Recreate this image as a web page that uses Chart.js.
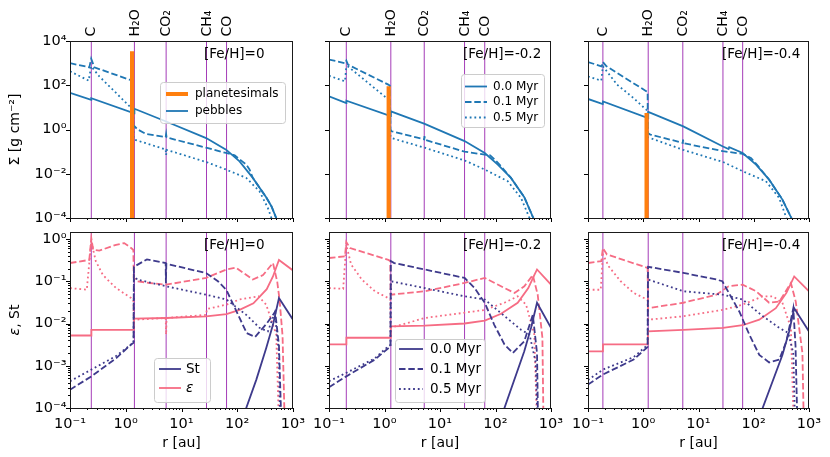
<!DOCTYPE html>
<html><head><meta charset="utf-8">
<script src="https://cdn.jsdelivr.net/npm/chart.js@4/dist/chart.umd.min.js"></script>
<style>
html,body{margin:0;padding:0;background:#fff;}
#wrap{position:relative;width:830px;height:457px;overflow:hidden;}
canvas{position:absolute;left:0;top:0;}
</style></head><body><div id="wrap">
<canvas id="c0" width="830" height="457"></canvas>
<canvas id="c1" width="830" height="457"></canvas>
<canvas id="c2" width="830" height="457"></canvas>
<canvas id="c3" width="830" height="457"></canvas>
<canvas id="c4" width="830" height="457"></canvas>
<canvas id="c5" width="830" height="457"></canvas>
</div>
<script>
// ---------------- DATA ----------------
const snowNames = ['C', 'H₂O', 'CO₂', 'CH₄', 'CO'];
const snowR_A = [0.241, 1.43, 5.3, 28.1, 64.3];   // [Fe/H]=0
const snowR_B = [0.205, 1.30, 5.2, 27.7, 64];     // [Fe/H]=-0.2
const snowR_C = [0.186, 1.23, 5.2, 27.7, 63];     // [Fe/H]=-0.4
const fehLabels = ['[Fe/H]=0', '[Fe/H]=-0.2', '[Fe/H]=-0.4'];
const timeLabels = ['0.0 Myr', '0.1 Myr', '0.5 Myr'];
const xTickValues = [0.1, 1, 10, 100, 1000];
const xTickLabels = ['10⁻¹', '10⁰', '10¹', '10²', '10³'];
const sigmaTickValues = [1e-4, 1e-2, 1, 1e2, 1e4];
const sigmaTickLabels = ['10⁻⁴', '10⁻²', '10⁰', '10²', '10⁴'];
const epsTickValues = [1e-4, 1e-3, 1e-2, 1e-1, 1];
const epsTickLabels = ['10⁻⁴', '10⁻³', '10⁻²', '10⁻¹', '10⁰'];

// pebble surface density [g cm^-2] vs r [au]
const pebA_t00 = [[0.1,45],[0.24,22],[0.241,26],[1.42,5.4],[1.43,8.7],[5.3,2.3],[27.7,0.41],[63,0.123],[110,0.036],[190,0.0065],[330,8.7e-4],[410,3.4e-4],[500,1e-4],[560,3e-5]];
const pebA_t01 = [[0.1,1000],[0.222,646],[0.24,1585],[0.273,646],[1.17,178],[1.32,160],[1.36,1.6],[1.43,1.4],[1.64,1.0],[2.3,0.63],[5.2,0.46],[5.3,0.62],[5.4,0.44],[27.7,0.15],[63,0.087],[90,0.068],[118,0.039],[145,0.026],[166,0.0155],[190,0.0065],[330,8.7e-4],[410,3.4e-4],[500,1e-4],[560,3e-5]];
const pebA_t05 = [[0.1,427],[0.216,162],[0.24,720],[0.336,250],[0.67,45],[1.25,9.4],[1.36,8],[1.38,0.4],[1.43,0.35],[5.2,0.125],[5.3,0.07],[5.4,0.12],[27.7,0.034],[63,0.0155],[145,0.0065],[251,0.0016],[355,2.8e-4],[410,1e-4],[460,3e-5]];
const plaA = [[1.3,1e-6],[1.3,3400]];

const pebB_t00 = [[0.1,31.6],[0.205,15.8],[0.206,20],[1.29,4.0],[1.3,6.6],[5.3,1.78],[27.7,0.3],[64,0.087],[110,0.026],[190,0.0065],[330,8.7e-4],[480,1e-4],[540,3e-5]];
const pebB_t01 = [[0.1,1445],[0.194,1000],[0.205,1290],[0.22,850],[1.17,107],[1.25,95],[1.28,1.0],[1.34,0.83],[5.2,0.36],[5.25,0.5],[5.35,0.34],[27.7,0.1],[64,0.073],[80,0.068],[100,0.04],[125,0.022],[190,0.0065],[330,8.7e-4],[480,1e-4],[540,3e-5]];
const pebB_t05 = [[0.1,270],[0.194,150],[0.205,700],[0.223,690],[1.1,26],[1.25,22],[1.28,0.5],[1.34,0.41],[5.3,0.15],[27.7,0.04],[64,0.0155],[166,0.0046],[288,8.1e-4],[410,1e-4],[460,3e-5]];
const plaB = [[1.19,1e-6],[1.19,90]];

const pebC_t00 = [[0.1,24],[0.185,14],[0.187,18.6],[1.22,3.3],[1.23,6.2],[5.3,1.38],[27.7,0.17],[35,0.13],[36,0.16],[63,0.087],[110,0.026],[190,0.0054],[330,6.8e-4],[480,1e-4],[540,3e-5]];
const pebC_t01 = [[0.1,1120],[0.174,720],[0.186,1120],[0.216,720],[1.13,54],[1.2,50],[1.21,0.7],[1.34,0.59],[5.2,0.25],[5.25,0.35],[5.35,0.24],[27.7,0.105],[63,0.079],[90,0.05],[120,0.022],[190,0.0054],[330,6.8e-4],[480,1e-4],[540,3e-5]];
const pebC_t05 = [[0.1,250],[0.174,162],[0.186,720],[0.336,107],[0.67,26],[1.13,7.9],[1.2,7],[1.21,0.45],[1.34,0.41],[5.3,0.12],[27.7,0.034],[63,0.013],[166,0.0046],[288,8.1e-4],[390,1e-4],[440,3e-5]];
const plaC = [[1.15,1e-6],[1.15,5.6]];

// dust-to-gas ratio epsilon and Stokes number St vs r [au]
const epsA_t00 = [[0.1,0.0052],[0.241,0.0052],[0.242,0.0071],[1.4,0.0071],[1.41,0.013],[5.3,0.0135],[27.7,0.0148],[64,0.0166],[110,0.021],[195,0.030],[338,0.065],[437,0.13],[560,0.32],[1000,0.18]];
const epsA_t01 = [[0.1,0.27],[0.222,0.32],[0.241,1.05],[0.26,0.56],[0.336,0.53],[0.67,0.73],[0.94,0.8],[1.25,0.61],[1.37,0.55],[1.39,0.12],[1.6,0.1],[2.66,0.091],[5.3,0.083],[27.7,0.12],[64,0.19],[95,0.21],[190,0.11],[290,0.14],[437,0.27],[520,0.1],[576,0.035],[650,0.005],[760,1e-6]];
const epsA_t05 = [[0.1,0.069],[0.2,0.063],[0.241,0.88],[0.29,0.3],[0.39,0.14],[0.67,0.069],[1.25,0.04],[1.37,0.036],[1.39,0.0123],[5.2,0.0135],[5.3,0.0055],[5.4,0.0135],[27.7,0.016],[28.5,0.022],[64,0.028],[110,0.037],[240,0.044],[330,0.028],[500,0.0055],[610,1e-6]];
const stA_t00 = [[110,1e-5],[145,1e-4],[220,4.7e-4],[330,0.0026],[437,0.0093],[560,0.04],[1000,0.0123]];
const stA_t01 = [[0.1,2.7e-4],[0.241,5.6e-4],[0.67,0.0015],[1.25,0.0032],[1.38,0.0035],[1.4,0.22],[2.4,0.33],[5.2,0.27],[5.25,0.09],[5.35,0.26],[28,0.155],[45,0.1],[64,0.062],[148,0.0059],[209,0.0048],[338,0.01],[479,0.019],[560,0.003],[676,1e-6]];
const stA_t05 = [[0.1,4.3e-4],[0.241,8.1e-4],[0.67,0.0017],[1.25,0.0032],[1.38,0.0035],[1.4,0.14],[1.6,0.11],[5.3,0.076],[27.7,0.048],[64,0.037],[145,0.016],[251,0.0079],[355,0.0065],[470,0.018],[560,0.002],[610,1e-6]];

const epsB_t00 = [[0.1,0.0032],[0.205,0.0032],[0.206,0.0046],[1.29,0.0046],[1.3,0.0086],[5.3,0.0089],[27.7,0.010],[64,0.0117],[126,0.017],[251,0.031],[390,0.069],[500,0.14],[560,0.19],[1000,0.083]];
const epsB_t01 = [[0.1,0.355],[0.194,0.39],[0.205,0.85],[0.24,0.61],[1.17,0.32],[1.27,0.3],[1.29,0.048],[2.66,0.053],[5.3,0.058],[27.7,0.091],[64,0.12],[126,0.076],[220,0.053],[330,0.076],[470,0.14],[576,0.048],[700,0.0046],[760,1e-6]];
const epsB_t05 = [[0.1,0.069],[0.18,0.066],[0.205,0.73],[0.25,0.25],[0.39,0.11],[0.67,0.058],[1.17,0.04],[1.27,0.037],[1.29,0.0079],[5.3,0.0135],[27.7,0.018],[64,0.021],[145,0.031],[251,0.044],[355,0.028],[500,0.0055],[610,1e-6]];
const stB_t00 = [[110,1e-5],[145,1e-4],[330,0.0022],[437,0.0079],[560,0.031],[1000,0.0079]];
const stB_t01 = [[0.1,3.1e-4],[0.205,5.6e-4],[0.67,0.0014],[1.17,0.0026],[1.28,0.0029],[1.3,0.30],[1.5,0.27],[5.3,0.19],[27.7,0.12],[42,0.069],[64,0.031],[95,0.0093],[145,0.0032],[205,0.002],[330,0.0038],[470,0.016],[560,0.002],[610,1e-6]];
const stB_t05 = [[0.1,4.3e-4],[0.205,6.8e-4],[0.67,0.0015],[1.17,0.0029],[1.28,0.0031],[1.3,0.1],[5.3,0.069],[27.7,0.044],[64,0.037],[145,0.015],[288,0.0071],[410,0.0055],[530,0.0012],[620,1e-6]];

const epsC_t00 = [[0.1,0.0022],[0.186,0.0022],[0.187,0.0032],[1.21,0.0032],[1.22,0.0065],[5.3,0.0071],[27.7,0.0079],[63,0.0091],[126,0.0123],[251,0.023],[390,0.053],[540,0.13],[1000,0.058]];
const epsC_t01 = [[0.1,0.27],[0.174,0.3],[0.186,0.61],[0.22,0.43],[1.17,0.21],[1.2,0.2],[1.22,0.023],[5.3,0.031],[21,0.048],[35,0.076],[63,0.083],[110,0.058],[190,0.031],[290,0.033],[470,0.091],[576,0.033],[760,0.002],[850,1e-6]];
const epsC_t05 = [[0.1,0.063],[0.17,0.063],[0.186,0.43],[0.24,0.22],[0.39,0.1],[0.67,0.053],[1.17,0.037],[1.2,0.036],[1.22,0.0123],[5.3,0.0148],[27.7,0.021],[63,0.028],[145,0.044],[220,0.044],[330,0.031],[470,0.0079],[576,1e-6]];
const stC_t00 = [[110,1e-5],[145,1e-4],[330,0.0018],[437,0.0065],[540,0.023],[1000,0.0065]];
const stC_t01 = [[0.1,3.6e-4],[0.186,6.2e-4],[0.67,0.0014],[1.13,0.0026],[1.2,0.0028],[1.22,0.22],[5.3,0.158],[21,0.11],[27,0.1],[55,0.019],[83,0.0055],[126,0.0018],[190,0.0012],[290,0.0014],[390,0.0038],[520,0.023],[570,0.003],[660,1e-6]];
const stC_t05 = [[0.1,4.6e-4],[0.186,8.1e-4],[0.67,0.0016],[1.13,0.0029],[1.2,0.003],[1.22,0.11],[5.3,0.058],[27.7,0.048],[63,0.037],[145,0.015],[288,0.0079],[420,0.006],[520,0.002],[600,1e-6]];

// ---------------- STYLE / LAYOUT ----------------
Chart.defaults.font.family = '"DejaVu Sans", sans-serif';
Chart.defaults.color = '#000';
const BLUE = '#1f77b4', ORANGE = '#ff7f0e', NAVY = '#3e3a8c', PINK = '#f66c84', SNOW = '#a53cb8';
const SOLID = [], DASH = [6.5, 2.8], DOT = [1.8, 2.9];
const LW = 1.8;
const cols = [[70, 293], [329, 551], [588, 809]];
const rows = [[41, 218], [232, 408]];
const yLimits = [[1e-4, 1e4], [1e-4, 1.465]];

function series(points, color, dash, width) {
  return { data: points.map(p => ({x: p[0], y: p[1]})), borderColor: color, backgroundColor: color,
    borderWidth: width, borderDash: dash, showLine: true, pointRadius: 0, pointHoverRadius: 0,
    fill: false, tension: 0, clip: 0 };
}
function snowSets(rs, row) {
  return rs.map(r => series([[r, yLimits[row][0]], [r, yLimits[row][1]]], SNOW, SOLID, 1));
}
function labelFor(values, labels, v) {
  for (let i = 0; i < values.length; i++) if (Math.abs(Math.log10(v) - Math.log10(values[i])) < 1e-6) return labels[i];
  return '';
}
function roundRectPath(ctx, x0, y0, x1, y1, r) {
  ctx.beginPath();
  ctx.moveTo(x0 + r, y0); ctx.lineTo(x1 - r, y0); ctx.arcTo(x1, y0, x1, y0 + r, r);
  ctx.lineTo(x1, y1 - r); ctx.arcTo(x1, y1, x1 - r, y1, r);
  ctx.lineTo(x0 + r, y1); ctx.arcTo(x0, y1, x0, y1 - r, r);
  ctx.lineTo(x0, y0 + r); ctx.arcTo(x0, y0, x0 + r, y0, r); ctx.closePath();
}
function drawLegend(ctx, L) {
  ctx.save();
  roundRectPath(ctx, L.box[0] + 0.5, L.box[1] + 0.5, L.box[2] + 0.5, L.box[3] + 0.5, 3);
  ctx.fillStyle = 'rgba(255,255,255,0.8)'; ctx.fill();
  ctx.strokeStyle = '#cccccc'; ctx.lineWidth = 1; ctx.stroke();
  L.items.forEach(it => {
    ctx.beginPath(); ctx.setLineDash(it.dash); ctx.strokeStyle = it.color; ctx.lineWidth = it.width;
    ctx.moveTo(L.lx0, it.y); ctx.lineTo(L.lx1, it.y); ctx.stroke();
    ctx.setLineDash([]);
    ctx.fillStyle = '#000'; ctx.textAlign = 'left'; ctx.textBaseline = 'middle';
    ctx.font = (it.italic ? 'italic ' : '') + L.size + 'px "DejaVu Sans"';
    ctx.fillText(it.text, L.tx, it.y);
  });
  ctx.restore();
}
function makeDecor(info) {
  return {
    id: 'decor',
    afterDraw(chart) {
      const ctx = chart.ctx, a = chart.chartArea, xs = chart.scales.x, ys = chart.scales.y;
      ctx.save();
      // ticks
      ctx.strokeStyle = '#000'; ctx.lineWidth = 1; ctx.beginPath();
      for (let d = -1; d <= 3; d++) for (let k = 1; k <= 9; k++) {
        const v = k * Math.pow(10, d); if (v > 1000.001) break;
        const px = Math.round(xs.getPixelForValue(v)) + 0.5, len = k === 1 ? 4 : 2;
        ctx.moveTo(px, a.bottom); ctx.lineTo(px, a.bottom + len);
      }
      if (info.row === 0) {
        sigmaTickValues.forEach(v => { const py = Math.round(ys.getPixelForValue(v)) + 0.5; ctx.moveTo(a.left, py); ctx.lineTo(a.left - 4, py); });
      } else {
        for (let d = -4; d <= 0; d++) for (let k = 1; k <= 9; k++) {
          const v = k * Math.pow(10, d); if (v > yLimits[1][1]) break;
          const py = Math.round(ys.getPixelForValue(v)) + 0.5, len = k === 1 ? 4 : 2;
          ctx.moveTo(a.left, py); ctx.lineTo(a.left - len, py);
        }
      }
      ctx.stroke();
      // frame
      ctx.strokeStyle = '#1a1a1a'; ctx.lineWidth = 1;
      ctx.strokeRect(Math.round(a.left) + 0.5, Math.round(a.top) + 0.5, Math.round(a.width) - 1, Math.round(a.height));
      // metallicity label
      ctx.fillStyle = '#000'; ctx.font = '13.5px "DejaVu Sans"'; ctx.textAlign = 'left'; ctx.textBaseline = 'middle';
      ctx.fillText(info.feh, a.left + 134, a.top + 13);
      // snowline names above top row
      if (info.row === 0) {
        ctx.font = '14px "DejaVu Sans"';
        info.snowR.forEach((r, i) => {
          const px = xs.getPixelForValue(r);
          ctx.save(); ctx.translate(px, a.top - 4.5); ctx.rotate(-Math.PI / 2);
          ctx.textAlign = 'left'; ctx.textBaseline = 'middle'; ctx.fillText(snowNames[i], 0, 0.5); ctx.restore();
        });
      }
      // y titles
      if (info.col === 0) {
        const cy = (a.top + a.bottom) / 2;
        ctx.save(); ctx.translate(15, cy); ctx.rotate(-Math.PI / 2); ctx.textBaseline = 'middle';
        if (info.row === 0) {
          ctx.font = '14px "DejaVu Sans"'; ctx.textAlign = 'center'; ctx.fillText('Σ [g cm⁻²]', 0, 0);
        } else {
          ctx.font = 'italic 14px "DejaVu Sans"'; const w1 = ctx.measureText('ε').width;
          ctx.font = '14px "DejaVu Sans"'; const w2 = ctx.measureText(', St').width;
          const x0 = -(w1 + w2) / 2; ctx.textAlign = 'left';
          ctx.font = 'italic 14px "DejaVu Sans"'; ctx.fillText('ε', x0, 0);
          ctx.font = '14px "DejaVu Sans"'; ctx.fillText(', St', x0 + w1, 0);
        }
        ctx.restore();
      }
      ctx.restore();
      if (info.legend) drawLegend(ctx, info.legend);
    }
  };
}
function makeChart(id, col, row, datasets, info) {
  const [L, R] = cols[col], [T, B] = rows[row];
  const yW = col === 0 ? 40 : 5;
  const xH = row === 1 ? 43.7 : 5;
  const yVals = row === 0 ? sigmaTickValues : epsTickValues;
  const yLabs = row === 0 ? sigmaTickLabels : epsTickLabels;
  info.col = col; info.row = row;
  new Chart(document.getElementById(id), {
    type: 'scatter',
    data: { datasets },
    options: {
      responsive: false, animation: false, devicePixelRatio: 1, events: [],
      layout: { padding: { left: L - yW, right: 830 - R, top: T, bottom: 457 - B - xH } },
      plugins: { legend: { display: false }, tooltip: { enabled: false } },
      scales: {
        x: { type: 'logarithmic', min: 0.1, max: 1000,
          grid: { display: false, drawTicks: false }, border: { display: false },
          afterBuildTicks: s => { s.ticks = xTickValues.map(v => ({ value: v })); },
          afterFit: s => { s.height = xH; s.paddingLeft = 0; s.paddingRight = 0; },
          ticks: { display: row === 1, autoSkip: false, maxRotation: 0, minRotation: 0, padding: 8, color: '#000',
            font: { size: 14.5 }, callback: v => labelFor(xTickValues, xTickLabels, v) },
          title: { display: row === 1, text: 'r [au]', color: '#000', font: { size: 14 }, padding: 0 } },
        y: { type: 'logarithmic', min: yLimits[row][0], max: yLimits[row][1],
          grid: { display: false, drawTicks: false }, border: { display: false },
          afterBuildTicks: s => { s.ticks = yVals.map(v => ({ value: v })); },
          afterFit: s => { s.width = yW; s.paddingTop = 0; s.paddingBottom = 0; },
          ticks: { display: col === 0, autoSkip: false, padding: 3.5, color: '#000',
            font: { size: 14.5 }, callback: v => labelFor(yVals, yLabs, v) } }
      }
    },
    plugins: [makeDecor(info)]
  });
}

function topSets(t00, t01, t05, pla, snowR) {
  return [series(pla, ORANGE, SOLID, 4.2),
    series(t00, BLUE, SOLID, LW), series(t01, BLUE, DASH, LW), series(t05, BLUE, DOT, LW)
  ].concat(snowSets(snowR, 0));
}
function botSets(s00, s01, s05, e00, e01, e05, snowR) {
  return [series(s00, NAVY, SOLID, LW), series(s01, NAVY, DASH, LW), series(s05, NAVY, DOT, LW),
    series(e00, PINK, SOLID, LW), series(e01, PINK, DASH, LW), series(e05, PINK, DOT, LW)
  ].concat(snowSets(snowR, 1));
}

makeChart('c0', 0, 0, topSets(pebA_t00, pebA_t01, pebA_t05, plaA, snowR_A), { feh: fehLabels[0], snowR: snowR_A,
  legend: { box: [160, 82, 285, 123], lx0: 166, lx1: 188, tx: 195, size: 12,
    items: [{ y: 94, color: ORANGE, width: 4, dash: SOLID, text: 'planetesimals' },
            { y: 111, color: BLUE, width: LW, dash: SOLID, text: 'pebbles' }] } });
makeChart('c1', 1, 0, topSets(pebB_t00, pebB_t01, pebB_t05, plaB, snowR_B), { feh: fehLabels[1], snowR: snowR_B,
  legend: { box: [461, 74, 544, 127], lx0: 465, lx1: 487, tx: 493, size: 12,
    items: [{ y: 86.5, color: BLUE, width: LW, dash: SOLID, text: timeLabels[0] },
            { y: 102, color: BLUE, width: LW, dash: DASH, text: timeLabels[1] },
            { y: 117.5, color: BLUE, width: LW, dash: DOT, text: timeLabels[2] }] } });
makeChart('c2', 2, 0, topSets(pebC_t00, pebC_t01, pebC_t05, plaC, snowR_C), { feh: fehLabels[2], snowR: snowR_C });
makeChart('c3', 0, 1, botSets(stA_t00, stA_t01, stA_t05, epsA_t00, epsA_t01, epsA_t05, snowR_A), { feh: fehLabels[0],
  legend: { box: [154, 358, 210, 402], lx0: 159, lx1: 181, tx: 186, size: 13.5,
    items: [{ y: 369, color: NAVY, width: LW, dash: SOLID, text: 'St' },
            { y: 388, color: PINK, width: LW, dash: SOLID, text: 'ε', italic: true }] } });
makeChart('c4', 1, 1, botSets(stB_t00, stB_t01, stB_t05, epsB_t00, epsB_t01, epsB_t05, snowR_B), { feh: fehLabels[1],
  legend: { box: [395, 339, 485, 402], lx0: 399, lx1: 423, tx: 430, size: 13.5,
    items: [{ y: 349, color: NAVY, width: LW, dash: SOLID, text: timeLabels[0] },
            { y: 369, color: NAVY, width: LW, dash: DASH, text: timeLabels[1] },
            { y: 389, color: NAVY, width: LW, dash: DOT, text: timeLabels[2] }] } });
makeChart('c5', 2, 1, botSets(stC_t00, stC_t01, stC_t05, epsC_t00, epsC_t01, epsC_t05, snowR_C), { feh: fehLabels[2] });
</script>
</body></html>
